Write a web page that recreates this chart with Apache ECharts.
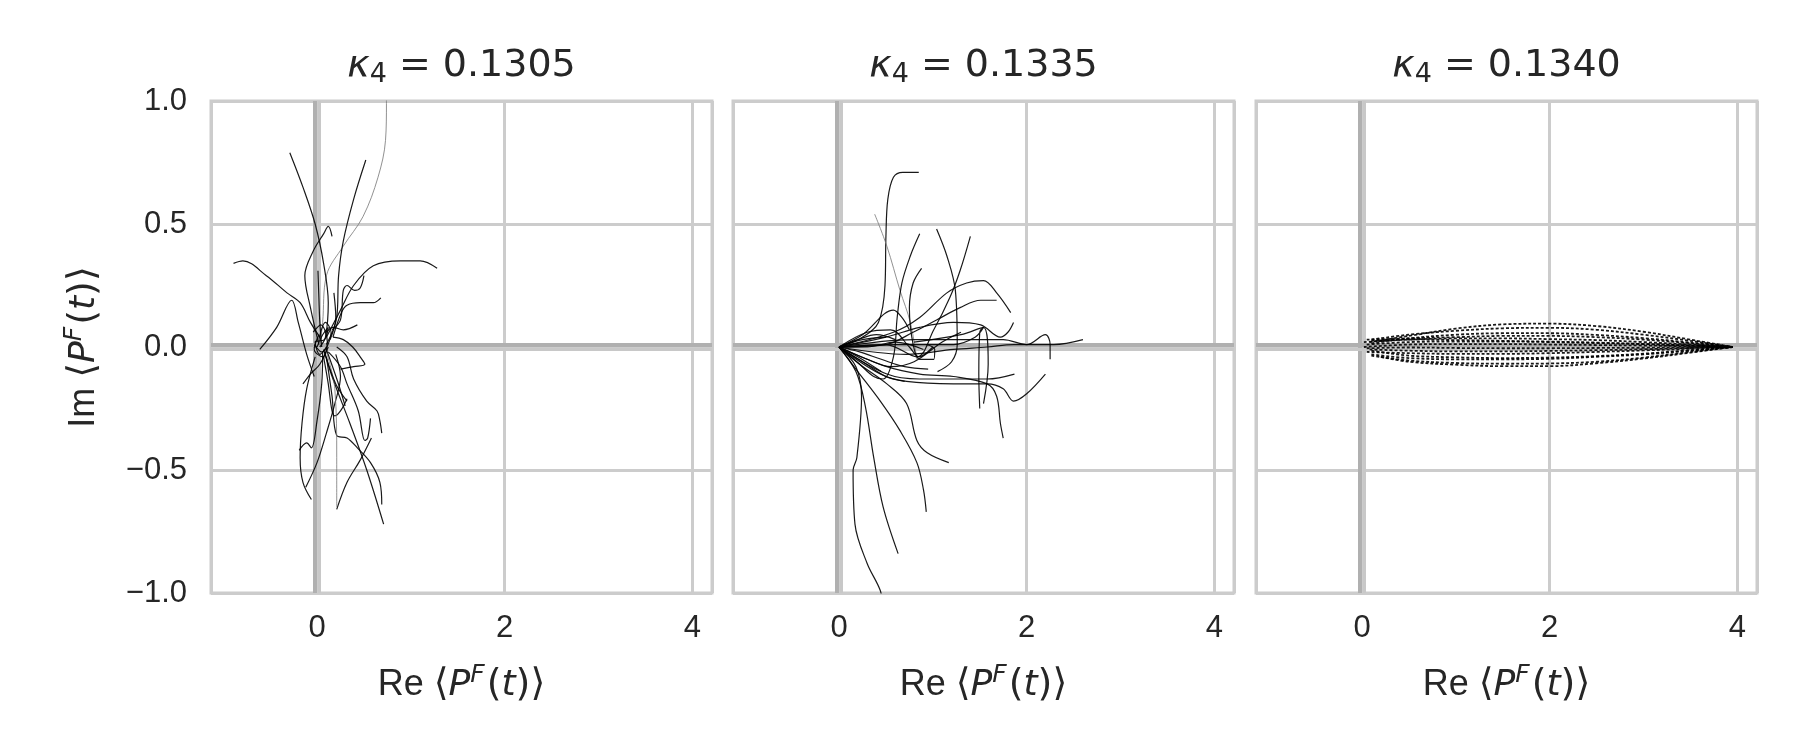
<!DOCTYPE html>
<html>
<head>
<meta charset="utf-8">
<script src="https://cdn.jsdelivr.net/npm/echarts@6/dist/echarts.min.js"></script>
<style>html,body{margin:0;padding:0;background:#fff}#c{width:1800px;height:750px}</style>
</head>
<body>
<div id="c"></div>
<script>
// ---------- data ----------
const kappaValues = ['0.1305', '0.1335', '0.1340'];
const xTickValues = [0, 2, 4];
const yTickValues = [-1.0, -0.5, 0.0, 0.5, 1.0];

// kappa4 = 0.1305 trajectories (Re, Im)
const traj1305 = [
  [[0.03,0.0],[0.06,0.10],[0.10,0.29],[0.28,0.41],[0.49,0.53],[0.65,0.69],[0.73,0.84],[0.74,0.99],[0.74,1.05]],
  [[-0.29,0.79],[-0.15,0.65],[-0.02,0.50],[0.07,0.34],[0.12,0.18],[0.09,0.04],[0.03,0.0]],
  [[0.52,0.76],[0.39,0.60],[0.28,0.43],[0.23,0.29],[0.21,0.12],[0.10,0.01]],
  [[0.02,0.01],[-0.07,0.16],[-0.13,0.29],[-0.04,0.39],[0.07,0.46],[0.12,0.49],[0.16,0.45]],
  [[-0.89,0.34],[-0.79,0.35],[-0.54,0.29],[-0.32,0.22],[-0.18,0.18],[-0.07,0.10],[0.03,0.04]],
  [[-0.61,-0.01],[-0.43,0.08],[-0.27,0.19],[-0.20,0.10],[-0.11,-0.03],[-0.03,-0.12]],
  [[0.10,0.04],[0.25,0.15],[0.39,0.25],[0.60,0.33],[0.89,0.35],[1.10,0.35],[1.28,0.32]],
  [[0.16,0.07],[0.25,0.11],[0.28,0.23],[0.32,0.25],[0.40,0.23],[0.46,0.24],[0.50,0.29]],
  [[0.17,0.04],[0.26,0.14],[0.32,0.17],[0.46,0.18],[0.60,0.18],[0.68,0.20]],
  [[0.10,0.06],[0.17,0.08],[0.28,0.07],[0.43,0.09]],
  [[0.17,0.04],[0.28,0.03],[0.38,0.0],[0.46,-0.04],[0.51,-0.07],[0.39,-0.08],[0.25,-0.09]],
  [[0.12,0.0],[0.03,-0.07],[-0.07,-0.11],[-0.15,-0.15]],
  [[0.07,-0.04],[0.12,-0.15],[0.16,-0.26],[0.19,-0.28],[0.25,-0.26],[0.32,-0.21]],
  [[0.21,0.0],[0.32,-0.04],[0.39,-0.13],[0.53,-0.22],[0.64,-0.26],[0.67,-0.30],[0.69,-0.35]],
  [[0.12,-0.02],[0.25,-0.08],[0.32,-0.15],[0.44,-0.26],[0.51,-0.38],[0.54,-0.37],[0.57,-0.29]],
  [[0.07,-0.01],[0.17,-0.13],[0.35,-0.31],[0.53,-0.50],[0.71,-0.72]],
  [[0.10,-0.04],[0.16,-0.20],[0.21,-0.36],[0.32,-0.37],[0.43,-0.41],[0.57,-0.47],[0.67,-0.55],[0.69,-0.64]],
  [[0.21,-0.66],[0.32,-0.55],[0.46,-0.46],[0.58,-0.37]],
  [[-0.02,-0.04],[-0.11,-0.17],[-0.16,-0.31],[-0.18,-0.45],[-0.15,-0.55],[-0.06,-0.62]],
  [[-0.19,-0.42],[-0.11,-0.39],[-0.06,-0.41],[0.0,-0.30],[0.05,-0.15],[0.06,-0.02]],
  [[-0.12,-0.57],[0.0,-0.47],[0.10,-0.35],[0.19,-0.23],[0.25,-0.12],[0.20,-0.03]],
  [[0.21,-0.65],[0.21,-0.45],[0.19,-0.17],[0.10,-0.02]],
  [[0.01,0.31],[0.02,0.20],[0.03,0.10],[0.05,0.0]],
  [[0.18,0.22],[0.20,0.12],[0.14,0.03]],
  [[0.08,-0.02],[0.20,-0.15],[0.32,-0.22]],
  [[0.10,-0.01],[0.22,-0.14],[0.30,-0.24]],
  [[0.0,0.0],[0.06,0.05],[0.12,0.08],[0.08,0.03],[-0.02,0.02],[0.03,-0.03],[0.10,0.0]],
  [[0.02,0.03],[0.09,0.10],[0.15,0.06],[0.05,-0.02],[-0.03,0.01]],
  [[-0.04,0.06],[0.04,0.09],[0.11,0.02],[0.06,-0.04],[-0.03,-0.01],[0.02,0.05]]
];

// kappa4 = 0.1335 trajectories
const traj1335 = [
  [[0,0],[0.25,0.04],[0.42,0.10],[0.49,0.25],[0.50,0.45],[0.52,0.60],[0.58,0.69],[0.68,0.71],[0.85,0.71]],
  [[0.38,0.54],[0.51,0.41],[0.65,0.23],[0.76,0.10],[0.83,-0.05]],
  [[0.86,0.46],[0.76,0.37],[0.67,0.26],[0.62,0.12],[0.58,-0.04],[0.47,-0.13],[0.37,-0.12],[0.22,-0.07],[0,0]],
  [[0.88,0.32],[0.79,0.26],[0.75,0.16],[0.79,0.01],[0.86,-0.05],[1.01,-0.05],[1.02,-0.01],[0.93,0.01]],
  [[1.04,0.48],[1.15,0.37],[1.24,0.23],[1.26,0.01],[1.20,-0.06],[1.05,-0.10]],
  [[0,0],[0.50,0.01],[0.83,-0.04],[1.01,0.07],[1.18,0.20],[1.29,0.31],[1.40,0.45]],
  [[0,0],[0.58,0.06],[0.86,0.12],[1.15,0.22],[1.36,0.26],[1.54,0.27],[1.68,0.22],[1.83,0.14]],
  [[0,0],[0.50,0.01],[0.79,0.06],[1.04,0.11],[1.29,0.16],[1.51,0.19],[1.68,0.19]],
  [[0,0],[0.50,0.04],[0.86,0.08],[1.22,0.10],[1.51,0.09],[1.72,0.04],[1.80,0.06],[1.86,0.10]],
  [[0,0],[0.72,-0.03],[1.22,-0.01],[1.58,0.0],[1.86,0.01],[2.11,0.01],[2.29,0.01],[2.60,0.03]],
  [[0,0],[0.80,0.03],[1.30,0.03],[1.75,0.03],[2.00,0.01],[2.20,0.05],[2.25,0.01],[2.25,-0.05]],
  [[0,0],[0.44,-0.11],[0.72,-0.14],[1.22,-0.15],[1.58,-0.15],[1.75,-0.17],[1.86,-0.22],[2.00,-0.19],[2.20,-0.11]],
  [[0,0],[0.51,-0.11],[0.86,-0.13],[1.22,-0.13],[1.58,-0.13],[1.87,-0.11]],
  [[0,0],[0.51,-0.08],[0.86,-0.11],[1.22,-0.12],[1.58,-0.15],[1.68,-0.20],[1.72,-0.31],[1.75,-0.37]],
  [[0,0],[0.60,0.01],[1.22,0.01],[1.45,0.04],[1.54,0.08],[1.50,0.06],[1.49,-0.11],[1.50,-0.25]],
  [[0.80,0.02],[1.30,0.05],[1.54,0.08],[1.59,-0.07],[1.54,-0.23]],
  [[0,0],[0.22,-0.07],[0.51,-0.15],[0.72,-0.23],[0.83,-0.38],[0.94,-0.43],[1.17,-0.47]],
  [[0,0],[0.20,-0.10],[0.44,-0.22],[0.65,-0.34],[0.83,-0.47],[0.90,-0.58],[0.93,-0.67]],
  [[0,0],[0.18,-0.10],[0.28,-0.24],[0.37,-0.45],[0.47,-0.65],[0.63,-0.84]],
  [[0,0],[0.18,-0.08],[0.24,-0.20],[0.19,-0.45],[0.15,-0.50],[0.17,-0.72],[0.30,-0.88],[0.44,-0.99],[0.46,-1.05]],
  [[0,0],[0.25,0.05],[0.58,0.15],[0.67,0.12],[0.75,0.07]],
  [[0,0],[0.30,0.06],[0.55,0.07],[0.75,0.0],[0.85,-0.04],[1.00,0.0]],
  [[0,0],[0.30,-0.05],[0.55,-0.08],[0.80,-0.06],[1.10,0.02],[1.30,0.06]],
  [[0,0],[0.25,0.03],[0.50,0.04]],
  [[0,0],[0.20,-0.04],[0.45,-0.10]],
  [[0,0],[0.30,0.0],[0.60,0.02],[0.90,-0.01]],
  [[0,0],[0.25,-0.06],[0.50,-0.12],[0.70,-0.14]],
  [[0,0],[0.20,0.03],[0.40,0.05],[0.60,0.03]],
  [[0,0],[0.22,-0.02],[0.45,-0.05],[0.70,-0.08],[0.95,-0.09]]
];

// kappa4 = 0.1340 trajectories
const traj1340 = [
  [[0.08,0.020],[0.5,0.045],[1.0,0.075],[1.5,0.092],[2.0,0.095],[2.5,0.085],[3.0,0.062],[3.5,0.030],[3.95,0]],
  [[0.10,0.030],[0.5,0.050],[1.0,0.066],[1.5,0.076],[2.0,0.078],[2.5,0.070],[3.0,0.050],[3.5,0.025],[3.95,0]],
  [[0.10,0.015],[0.5,0.035],[1.0,0.050],[1.5,0.056],[2.0,0.056],[2.5,0.049],[3.0,0.036],[3.5,0.018],[3.95,0]],
  [[0.05,0.030],[0.5,0.035],[1.0,0.040],[1.5,0.045],[2.0,0.045],[2.5,0.040],[3.0,0.030],[3.5,0.015],[3.95,0]],
  [[0.02,0.020],[0.5,0.030],[1.0,0.035],[1.5,0.035],[2.0,0.032],[2.5,0.028],[3.0,0.020],[3.5,0.010],[3.95,0]],
  [[0.10,0.025],[0.5,0.030],[1.0,0.028],[1.5,0.025],[2.0,0.022],[2.5,0.018],[3.0,0.012],[3.5,0.006],[3.95,0]],
  [[0.05,0.010],[0.5,0.020],[1.0,0.022],[1.5,0.022],[2.0,0.020],[2.5,0.016],[3.0,0.012],[3.5,0.006],[3.95,0]],
  [[0.02,0.000],[0.5,0.010],[1.0,0.012],[1.5,0.012],[2.0,0.010],[2.5,0.008],[3.0,0.006],[3.5,0.003],[3.95,0]],
  [[0.05,-0.005],[0.5,-0.002],[1.0,-0.004],[1.5,-0.005],[2.0,-0.005],[2.5,-0.004],[3.0,-0.003],[3.5,-0.001],[3.95,0]],
  [[0.08,-0.010],[0.5,-0.015],[1.0,-0.018],[1.5,-0.018],[2.0,-0.016],[2.5,-0.013],[3.0,-0.009],[3.5,-0.004],[3.95,0]],
  [[0.05,-0.020],[0.5,-0.025],[1.0,-0.028],[1.5,-0.028],[2.0,-0.025],[2.5,-0.020],[3.0,-0.014],[3.5,-0.007],[3.95,0]],
  [[0.10,-0.015],[0.5,-0.035],[1.0,-0.042],[1.5,-0.045],[2.0,-0.043],[2.5,-0.037],[3.0,-0.027],[3.5,-0.013],[3.95,0]],
  [[0.10,-0.030],[0.5,-0.045],[1.0,-0.050],[1.5,-0.050],[2.0,-0.048],[2.5,-0.040],[3.0,-0.030],[3.5,-0.015],[3.95,0]],
  [[0.10,-0.035],[0.5,-0.055],[1.0,-0.065],[1.5,-0.068],[2.0,-0.067],[2.5,-0.060],[3.0,-0.043],[3.5,-0.020],[3.95,0]],
  [[0.20,-0.040],[0.5,-0.060],[1.0,-0.072],[1.5,-0.078],[2.0,-0.078],[2.5,-0.066],[3.0,-0.047],[3.5,-0.023],[3.95,0]]
];

// ---------- styling / layout ----------
const panelTraj = [traj1305, traj1335, traj1340];
const faint = [[0, 21], [1], []];
const gridLefts = [211, 733, 1256];
const gridW = 501, gridTop = 101, gridH = 492;
const tickColor = '#262626';

const grids = gridLefts.map(l => ({
  left: l, top: gridTop, width: gridW, height: gridH,
  show: true, borderColor: '#cccccc', borderWidth: 3, backgroundColor: '#ffffff', containLabel: false
}));

const nameRich = {
  rm: {fontFamily: 'Liberation Sans', fontSize: 36, color: tickColor, verticalAlign: 'middle'},
  br: {fontFamily: 'DejaVu Sans', fontSize: 38, color: tickColor, verticalAlign: 'middle'},
  it: {fontFamily: 'DejaVu Sans', fontStyle: 'italic', fontSize: 36, color: tickColor, verticalAlign: 'middle'},
  sup: {fontFamily: 'DejaVu Sans', fontStyle: 'italic', fontSize: 25, color: tickColor, verticalAlign: 'middle', padding: [0, 2, 20, 0]}
};
function pfName(prefix) {
  return '{rm|' + prefix + ' }{br|⟨}{it|P}{sup|F}{br|(}{it|t}{br|)⟩}';
}

const xAxes = gridLefts.map((l, i) => ({
  type: 'value', gridIndex: i, min: -1.13, max: 4.21, splitNumber: 3,
  axisLine: {show: false}, axisTick: {show: false},
  splitLine: {show: true, lineStyle: {color: '#cccccc', width: 3}},
  axisLabel: {
    show: true, margin: 20, fontFamily: 'Liberation Sans', fontSize: 31, color: tickColor,
    showMinLabel: false, showMaxLabel: false,
    formatter: v => xTickValues.indexOf(Math.round(v * 1000) / 1000) >= 0 ? String(Math.round(v)) : ''
  },
  name: pfName('Re'), nameLocation: 'middle', nameGap: 70,
  nameTextStyle: {rich: nameRich}
}));

const yAxes = gridLefts.map((l, i) => ({
  type: 'value', gridIndex: i, min: -1, max: 1, interval: 0.5,
  axisLine: {show: false}, axisTick: {show: false},
  splitLine: {show: true, lineStyle: {color: '#cccccc', width: 3}},
  axisLabel: {
    show: i === 0, margin: 24, fontFamily: 'Liberation Sans', fontSize: 31, color: tickColor,
    formatter: v => {
      const t = yTickValues.find(k => Math.abs(k - v) < 1e-6);
      if (t === undefined) return '';
      return (t < 0 ? '\u2212' : '') + Math.abs(t).toFixed(1);
    }
  },
  name: i === 0 ? pfName('Im') : '', nameLocation: 'middle', nameGap: 104, nameRotate: 90,
  nameTextStyle: {rich: nameRich}
}));

const series = [];
panelTraj.forEach((trajs, p) => {
  // zero reference lines (drawn beneath the trajectories)
  series.push({
    type: 'line', xAxisIndex: p, yAxisIndex: p, data: [], silent: true, z: 1,
    markLine: {
      silent: true, symbol: 'none', label: {show: false}, animation: false, z: 1,
      data: [
        {xAxis: -0.018, lineStyle: {color: '#b0b0b0', width: 4, type: 'solid'}},
        {xAxis: 0.022, lineStyle: {color: '#c8c8c8', width: 3, type: 'solid'}},
        {yAxis: 0.007, lineStyle: {color: '#b0b0b0', width: 4, type: 'solid'}},
        {yAxis: -0.009, lineStyle: {color: '#c8c8c8', width: 3, type: 'solid'}}
      ]
    }
  });
  trajs.forEach((tr, k) => {
    const light = faint[p].indexOf(k) >= 0;
    series.push({
      type: 'line', xAxisIndex: p, yAxisIndex: p, data: tr,
      smooth: 0.35, showSymbol: false, silent: true, clip: true, z: 10,
      lineStyle: p === 2
        ? {color: '#000000', width: 1.8, type: [3, 2], opacity: 0.9}
        : {color: light ? '#777777' : '#000000', width: light ? 0.9 : 1.2, opacity: 0.9}
    });
  });
});

const centers = gridLefts.map(l => l + gridW / 2);
const graphics = kappaValues.map((k, i) => ({
  type: 'text', x: centers[i], y: 66, silent: true,
  style: {
    text: '{k|κ}{s|4}{n| = ' + k + '}',
    align: 'center', verticalAlign: 'middle',
    rich: {
      k: {fontFamily: 'DejaVu Sans', fontStyle: 'italic', fontSize: 38, fill: tickColor, verticalAlign: 'middle'},
      s: {fontFamily: 'DejaVu Sans', fontSize: 27, fill: tickColor, verticalAlign: 'middle', padding: [18, 0, 0, 0]},
      n: {fontFamily: 'DejaVu Sans', fontSize: 38, fill: tickColor, verticalAlign: 'middle'}
    }
  }
}));

const chart = echarts.init(document.getElementById('c'), null, {renderer: 'canvas'});
chart.setOption({
  animation: false,
  backgroundColor: '#ffffff',
  grid: grids, xAxis: xAxes, yAxis: yAxes, series: series, graphic: graphics
});
</script>
</body>
</html>
